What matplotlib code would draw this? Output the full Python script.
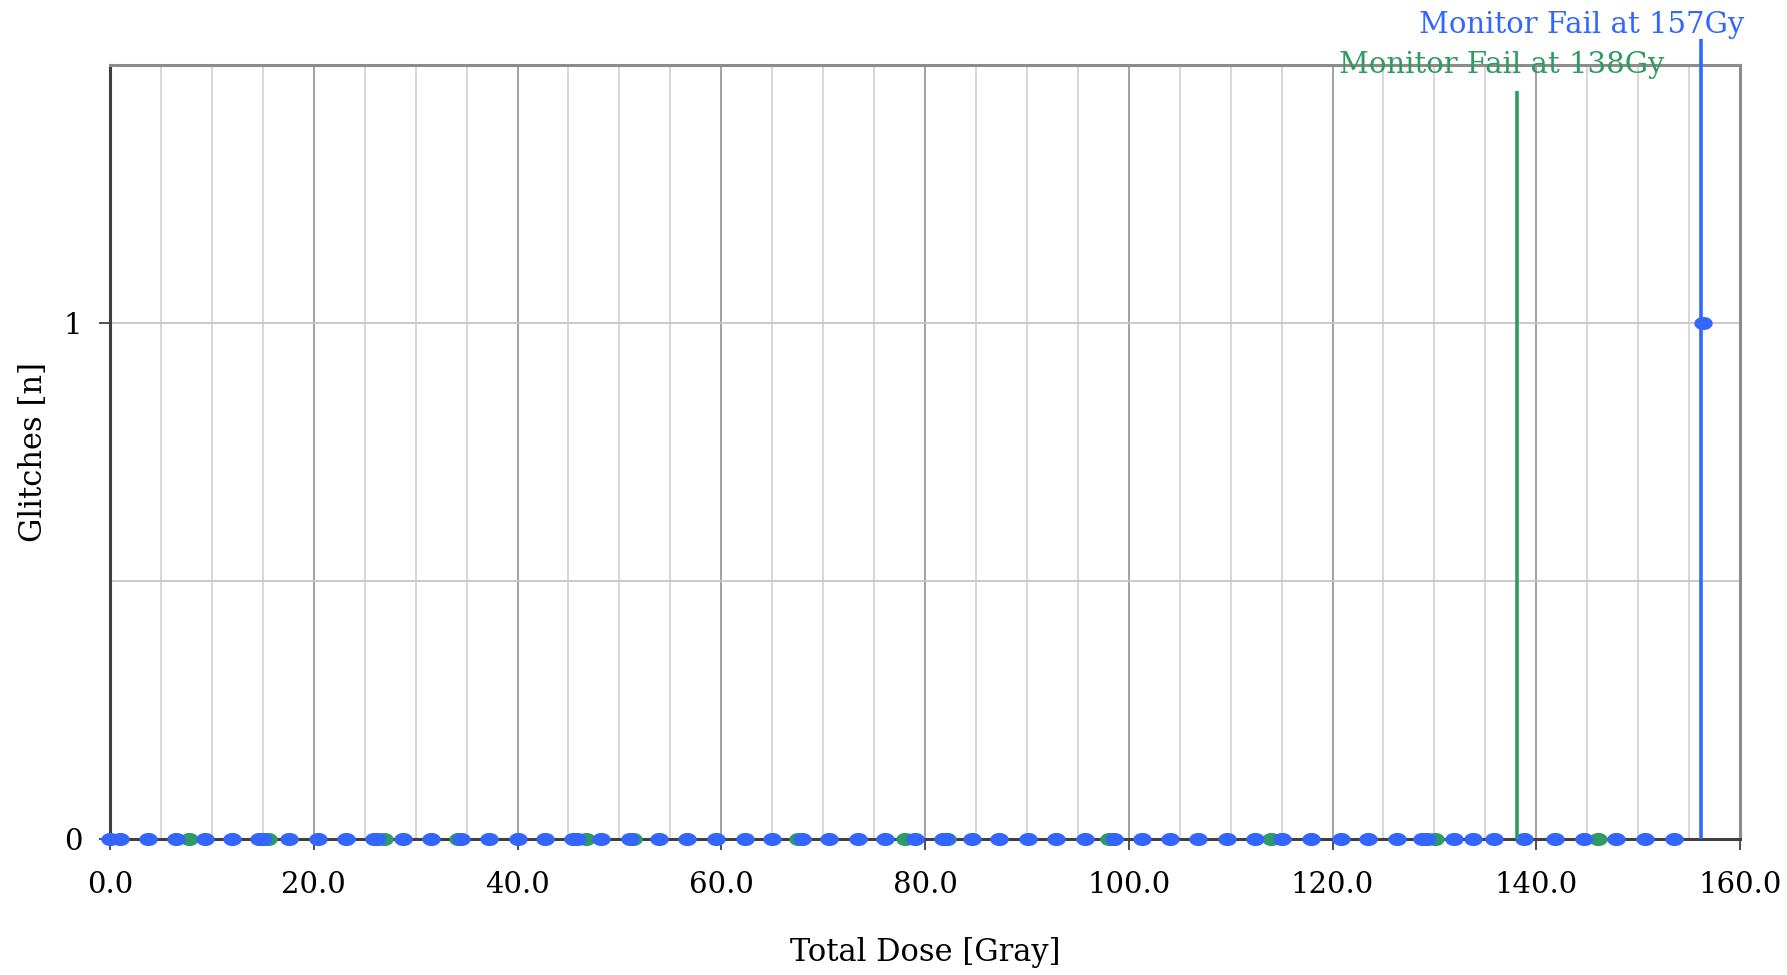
import matplotlib.pyplot as plt
import numpy as np
from matplotlib.path import Path
from matplotlib.ticker import MultipleLocator, FixedLocator

plt.rcParams['font.family'] = ['DejaVu Serif']

# monitor 1 (blue) readings
blue_dose = [0.0, 1.0, 3.7, 6.5, 9.3, 12.0, 14.6, 15.0, 17.6, 20.4, 23.2, 25.9, 26.2,
             28.8, 31.5, 34.4, 37.2, 40.0, 42.7, 45.4, 45.8, 48.2, 51.0, 53.9, 56.6,
             59.5, 62.3, 65.0, 67.9, 70.6, 73.4, 76.1, 79.0, 81.8, 82.1, 84.6, 87.3,
             90.1, 92.9, 95.7, 98.5, 101.3, 104.0, 106.8, 109.6, 112.4, 115.0, 117.9,
             120.8, 123.5, 126.3, 128.8, 129.3, 131.9, 133.8, 135.9, 138.8, 141.8,
             144.7, 147.8, 150.7, 153.5, 156.4]
blue_glitches = [0] * (len(blue_dose) - 1) + [1]

# monitor 2 (green) readings
green_dose = [7.7, 15.5, 26.9, 34.2, 46.7, 51.3, 67.5, 78.0, 82.2, 98.1, 114.0,
              130.1, 146.1]
green_glitches = [0] * len(green_dose)

blue_fail = 156.2
green_fail = 138.1
blue_label = "Monitor Fail at 157Gy"
green_label = "Monitor Fail at 138Gy"

BLUE = "#3366ff"
GREEN = "#2e9b62"

# slightly flattened dot, like the original
t = np.linspace(0, 2 * np.pi, 60)
ellipse = Path(np.column_stack([1.4 * np.cos(t), np.sin(t)]), closed=True)

fig = plt.figure(figsize=(17.87, 9.75), dpi=100)
ax = fig.add_axes([0.0616, 0.1395, 0.9121, 0.7938])

ax.set_xlim(0, 160)
ax.set_ylim(0, 1.5)

ax.xaxis.set_major_locator(MultipleLocator(20))
ax.xaxis.set_minor_locator(MultipleLocator(5))
ax.xaxis.set_major_formatter(lambda v, p: "%.1f" % v)
ax.yaxis.set_major_locator(FixedLocator([0, 1]))
ax.yaxis.set_minor_locator(FixedLocator([0.5]))

ax.grid(which='major', axis='x', color='#9a9a9a', lw=1.3)
ax.grid(which='minor', axis='x', color='#d4d4d4', lw=1.3)
ax.grid(which='both', axis='y', color='#c6c6c6', lw=1.3)
ax.set_axisbelow(True)

for s in ['top', 'right']:
    ax.spines[s].set_color('#8c8c8c')
    ax.spines[s].set_linewidth(2.2)
for s in ['left', 'bottom']:
    ax.spines[s].set_color('#404040')
    ax.spines[s].set_linewidth(2.2)

ax.tick_params(which='major', direction='out', length=8, width=1.3, color='#404040',
               labelsize=21)
ax.tick_params(which='minor', length=0)
ax.tick_params(axis='x', pad=15)
ax.tick_params(axis='y', pad=12)

ax.scatter(green_dose, green_glitches, marker=ellipse, s=175, color=GREEN, zorder=3,
           clip_on=False, linewidths=0)
ax.scatter(blue_dose, blue_glitches, marker=ellipse, s=175, color=BLUE, zorder=4,
           clip_on=False, linewidths=0)

ax.vlines(green_fail, 0, 1.45, color=GREEN, lw=2.6, zorder=5, clip_on=False)
ax.vlines(blue_fail, 0, 1.55, color=BLUE, lw=2.6, zorder=5, clip_on=False)

ax.text(144.5, 1.577, blue_label, color=BLUE, fontsize=21, ha='center', va='center',
        clip_on=False)
ax.text(136.6, 1.5, green_label, color=GREEN, fontsize=21, ha='center', va='center',
        clip_on=False)

ax.set_xlabel('Total Dose [Gray]', fontsize=22, va='center')
ax.set_ylabel('Glitches [n]', fontsize=22, va='center')
ax.xaxis.set_label_coords(0.5, -0.147)
ax.yaxis.set_label_coords(-0.047, 0.5)

fig.savefig('out.png', dpi=100)
